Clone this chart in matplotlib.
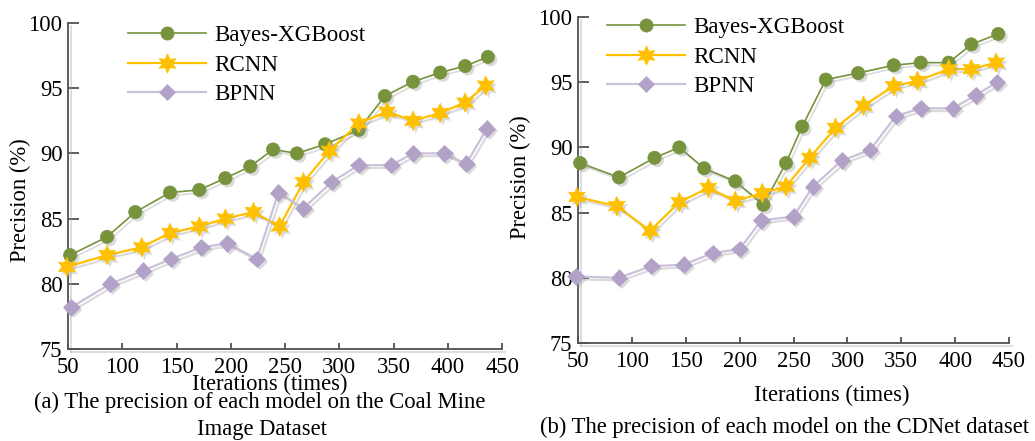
import numpy as np
import matplotlib
matplotlib.use('Agg')
import matplotlib.pyplot as plt
import matplotlib.patheffects as pe
from matplotlib.lines import Line2D

plt.rcParams['font.family'] = ['Liberation Serif', 'DejaVu Serif']

names = ['Bayes-XGBoost', 'RCNN', 'BPNN']

# (a) Coal Mine Image Dataset
a_x_bayes = [52, 86, 112, 144, 171, 195, 218, 239, 261, 287, 318, 342, 368, 393, 416, 437]
a_y_bayes = [82.2, 83.6, 85.5, 87.0, 87.2, 88.1, 89.0, 90.3, 90.0, 90.7, 91.8, 94.4, 95.5, 96.2, 96.7, 97.4]
a_x_rcnn = [49, 86, 118, 144, 171, 195, 221, 245, 267, 291, 318, 344, 368, 393, 416, 435]
a_y_rcnn = [81.3, 82.2, 82.8, 83.9, 84.4, 85.0, 85.5, 84.4, 87.8, 90.2, 92.3, 93.2, 92.5, 93.1, 93.9, 95.2]
a_x_bpnn = [53, 89, 119, 145, 173, 197, 224, 244, 267, 293, 318, 348, 368, 397, 417, 436]
a_y_bpnn = [78.2, 80.0, 81.0, 81.9, 82.8, 83.1, 81.9, 87.0, 85.8, 87.8, 89.1, 89.1, 90.0, 90.0, 89.2, 91.9]

# (b) CDNet dataset
b_x_bayes = [52, 88, 121, 144, 167, 196, 222, 243, 258, 280, 310, 343, 368, 394, 415, 440]
b_y_bayes = [88.8, 87.7, 89.2, 90.0, 88.4, 87.4, 85.6, 88.8, 91.6, 95.2, 95.7, 96.3, 96.5, 96.5, 97.9, 98.7]
b_x_rcnn = [49, 86, 117, 144, 171, 196, 221, 243, 265, 289, 315, 343, 365, 394, 415, 438]
b_y_rcnn = [86.2, 85.5, 83.6, 85.8, 86.9, 85.9, 86.5, 87.0, 89.2, 91.5, 93.2, 94.7, 95.1, 96.0, 96.0, 96.5]
b_x_bpnn = [48, 88, 118, 148, 175, 200, 220, 250, 268, 295, 321, 345, 368, 398, 419, 439]
b_y_bpnn = [80.1, 80.0, 80.9, 81.0, 81.9, 82.2, 84.4, 84.7, 87.0, 89.0, 89.8, 92.4, 93.0, 93.0, 94.0, 95.0]

colors = ['#77933C', '#FFC000', '#CCC1DA']
mcolors = ['#77933C', '#FFC000', '#B3A2C7']
widths = [1.2, 1.6, 1.6]
markers = ['o', (6, 1, 0), 'D']
msizes = [9.5, 14, 8.5]

line_shadow = [pe.SimpleLineShadow(offset=(2, -2), shadow_color='#999999', alpha=0.35), pe.Normal()]
mark_shadow = [pe.SimplePatchShadow(offset=(2, -2), shadow_rgbFace='#999999', alpha=0.35), pe.Normal()]

FS = 16.3

fig = plt.figure(figsize=(10.35, 4.41), dpi=100)
W, H = 1035.0, 441.0


def make_axes(l, t, r, b):
    return fig.add_axes([l / W, 1 - b / H, (r - l) / W, (b - t) / H])


def style_axes(ax):
    ax.set_xlim(50, 450)
    ax.set_ylim(75, 100)
    ax.set_xticks(np.arange(50, 451, 50))
    ax.set_yticks(np.arange(75, 101, 5))
    for s in ['top', 'right']:
        ax.spines[s].set_visible(False)
    for s in ['left', 'bottom']:
        ax.spines[s].set_color('#505050')
        ax.spines[s].set_linewidth(1.3)
        ax.spines[s].set_path_effects(line_shadow)
    ax.tick_params(axis='y', direction='in', length=8, width=1.3, color='#505050',
                   labelsize=FS, pad=4)
    ax.tick_params(axis='x', direction='in', length=4.5, width=1.3, color='#505050',
                   labelsize=FS, pad=6)
    ax.patch.set_alpha(0)


def plot_panel(ax, xs, ys, leg_xy):
    hs = []
    for i in range(3):
        ln, = ax.plot(xs[i], ys[i], color=colors[i], lw=widths[i], clip_on=False, zorder=3)
        ln.set_path_effects(line_shadow)
        mk, = ax.plot(xs[i], ys[i], ls='none', marker=markers[i], ms=msizes[i],
                      mfc=mcolors[i], mec=mcolors[i], mew=0.5, clip_on=False, zorder=4)
        mk.set_path_effects(mark_shadow)
        hs.append(Line2D([], [], color=colors[i], lw=widths[i], marker=markers[i],
                         ms=msizes[i], mfc=mcolors[i], mec=mcolors[i], mew=0.5))
    ax.legend(hs, names, loc='upper left', bbox_to_anchor=(leg_xy[0] / W, 1 - leg_xy[1] / H),
              bbox_transform=fig.transFigure, frameon=False, fontsize=16.6,
              handlelength=3.4, handletextpad=0.35, labelspacing=0.36, borderpad=0,
              borderaxespad=0)


ax0 = make_axes(68, 23, 502, 349)
style_axes(ax0)
plot_panel(ax0, [a_x_bayes, a_x_rcnn, a_x_bpnn], [a_y_bayes, a_y_rcnn, a_y_bpnn], (128, 25))
ax0.set_ylabel('Precision (%)', fontsize=FS)
ax0.yaxis.set_label_coords(-0.085, 0.457)
ax0.set_xlabel('Iterations (times)', fontsize=FS, va='center')
ax0.xaxis.set_label_coords(0.465, -0.11)

ax1 = make_axes(578, 17, 1009, 343)
style_axes(ax1)
plot_panel(ax1, [b_x_bayes, b_x_rcnn, b_x_bpnn], [b_y_bayes, b_y_rcnn, b_y_bpnn], (607, 17))
ax1.set_ylabel('Precision (%)', fontsize=FS)
ax1.yaxis.set_label_coords(-0.11, 0.509)
ax1.set_xlabel('Iterations (times)', fontsize=FS, va='center')
ax1.xaxis.set_label_coords(0.589, -0.16)

fig.text(260 / W, 1 - 402 / H, '(a) The precision of each model on the Coal Mine',
         ha='center', va='center', fontsize=FS)
fig.text(262 / W, 1 - 430 / H, 'Image Dataset', ha='center', va='center', fontsize=FS)
fig.text(785 / W, 1 - 427 / H, '(b) The precision of each model on the CDNet dataset',
         ha='center', va='center', fontsize=FS)

fig.savefig('out.png', dpi=100)
